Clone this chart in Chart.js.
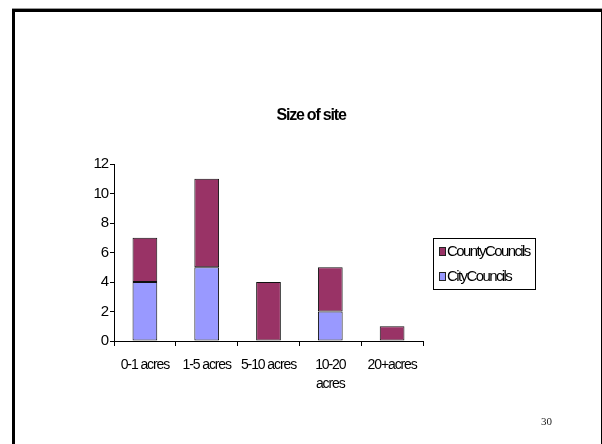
<!DOCTYPE html>
<html>
<head>
<meta charset="utf-8">
<script src="https://cdn.jsdelivr.net/npm/chart.js@4/dist/chart.umd.min.js"></script>
<style>
  html, body { margin: 0; padding: 0; background: #fff; overflow: hidden; }
  #slide {
    position: absolute; left: 12px; top: 9px; width: 586px; height: 460px;
    border-top: 3px solid #000; border-left: 3px solid #000; border-right: 2px solid #000;
    box-shadow: 0 -1px 0 #999;
  }
  #wrap { position: absolute; left: 0; top: 0; width: 602px; height: 444px; }
  #pageNo {
    position: absolute; left: 541px; top: 415px;
    font-family: "Liberation Serif", "Times New Roman", serif; font-size: 11px; color: #222;
  }
</style>
</head>
<body>
<div id="slide"></div>
<div id="wrap"><canvas id="chart" width="602" height="444"></canvas></div>
<div id="pageNo">30</div>
<script>
const chartTitle = 'Size of site';
const categories = ['0-1 acres', '1-5 acres', '5-10 acres', ['10-20', 'acres'], '20+acres'];
const cityCouncils = [4, 5, 0, 2, 0];
const countyCouncils = [3, 6, 4, 3, 1];
const yTicks = [0, 2, 4, 6, 8, 10, 12];

const FONT = "'Liberation Sans', Arial, sans-serif";
const TIGHT = '-1.1px';

// Tight letter spacing for all canvas text
const tightText = {
  id: 'tightText',
  beforeUpdate(chart) { chart.ctx.letterSpacing = TIGHT; },
  beforeDraw(chart) { chart.ctx.letterSpacing = TIGHT; }
};

// Title and boxed legend drawn at fixed spots beside the plot
const slideText = {
  id: 'slideText',
  afterDraw(chart) {
    const ctx = chart.ctx;
    ctx.save();
    ctx.fillStyle = '#000';
    ctx.letterSpacing = '-1.2px';
    ctx.font = "bold 16px " + FONT;
    ctx.textAlign = 'center';
    ctx.textBaseline = 'middle';
    ctx.fillText(chartTitle, 311, 116);

    // legend box
    ctx.strokeStyle = '#000';
    ctx.lineWidth = 1;
    ctx.strokeRect(433.5, 238.5, 102, 51);
    const items = chart.data.datasets.slice().reverse();
    ctx.letterSpacing = '-1.6px';
    ctx.font = "15px " + FONT;
    ctx.textAlign = 'left';
    items.forEach((ds, i) => {
      const y = 247 + i * 25;
      ctx.fillStyle = ds.backgroundColor;
      ctx.fillRect(439, y, 7, 9);
      ctx.strokeStyle = '#222';
      ctx.strokeRect(439.5, y + 0.5, 6, 8);
      ctx.fillStyle = '#000';
      ctx.fillText(ds.label.replace(' ', ''), 447, y + 5);
    });
    ctx.restore();
  }
};

new Chart(document.getElementById('chart'), {
  type: 'bar',
  data: {
    labels: categories,
    datasets: [
      { label: 'City Councils', data: cityCouncils, backgroundColor: '#9999FF', borderColor: '#111', borderWidth: 1, borderSkipped: false },
      { label: 'County Councils', data: countyCouncils, backgroundColor: '#993366', borderColor: '#111', borderWidth: 1, borderSkipped: false }
    ]
  },
  options: {
    responsive: false,
    animation: false,
    layout: { padding: { left: 0, top: 164, right: 179, bottom: 0 } },
    plugins: { legend: { display: false }, title: { display: false }, tooltip: { enabled: false } },
    datasets: { bar: { categoryPercentage: 1, barPercentage: 0.4 } },
    scales: {
      x: {
        stacked: true,
        afterFit: s => { s.height = 103; },
        grid: { offset: true, drawOnChartArea: false, tickLength: 5, color: '#000' },
        border: { color: '#000', width: 1 },
        ticks: { color: '#000', padding: 9, autoSkip: false, maxRotation: 0, font: { family: FONT, size: 14, lineHeight: 1.4 } }
      },
      y: {
        stacked: true,
        min: 0, max: 12,
        afterFit: s => { s.width = 114; },
        afterBuildTicks: s => { s.ticks = yTicks.map(v => ({ value: v })); },
        grid: { drawOnChartArea: false, tickLength: 4, color: '#000' },
        border: { color: '#000', width: 1 },
        ticks: { color: '#000', padding: 2, font: { family: FONT, size: 15 } }
      }
    }
  },
  plugins: [tightText, slideText]
});
</script>
</body>
</html>
